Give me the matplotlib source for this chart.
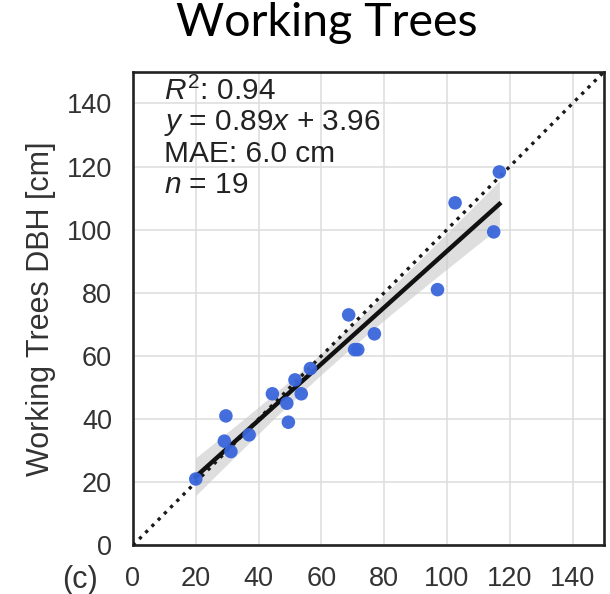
import numpy as np
import matplotlib
matplotlib.use("Agg")
import matplotlib.pyplot as plt

# field-measured DBH vs. Working Trees estimate (cm)
field_dbh = [20, 29.6, 29.1, 31.2, 37, 44.4, 49, 49.5, 51.6, 53.6, 56.5,
             68.7, 70.6, 71.6, 76.9, 97, 102.6, 114.9, 116.7]
wt_dbh = [21, 41, 33, 29.7, 35, 48, 45, 39, 52.4, 48, 56,
          73, 62, 62, 67, 81, 108.5, 99.3, 118.3]
ticks = [0, 20, 40, 60, 80, 100, 120, 140]
stats_lines = [r"$R^{2}$: 0.94", r"$y$ = 0.89$x$ + 3.96", "MAE: 6.0 cm", r"$n$ = 19"]

plt.rcParams['font.family'] = ['Liberation Sans', 'DejaVu Sans']
plt.rcParams['mathtext.fontset'] = 'custom'
plt.rcParams['mathtext.rm'] = 'Liberation Sans'
plt.rcParams['mathtext.it'] = 'Liberation Sans:italic'

x = np.array(field_dbh)
y = np.array(wt_dbh)

# linear fit with 95% confidence band
slope, icpt = np.polyfit(x, y, 1)
xs = np.linspace(x.min(), x.max(), 100)
ys = slope * xs + icpt
n = len(x)
resid = y - (slope * x + icpt)
s = np.sqrt(np.sum(resid ** 2) / (n - 2))
se = s * np.sqrt(1 / n + (xs - x.mean()) ** 2 / np.sum((x - x.mean()) ** 2))
t_crit = 2.11  # df = 17
lo = ys - t_crit * se
hi = ys + t_crit * se

fig = plt.figure(figsize=(6.1, 5.94), dpi=100)
ax = fig.add_axes([0.218, 0.082, 0.772, 0.797])

ax.plot([0, 150], [0, 150], color='#1a1a1a', linestyle=':', lw=2.4, zorder=3)
ax.fill_between(xs, lo, hi, color='#c8c8c8', alpha=0.6, lw=0, zorder=2)
ax.plot(xs, ys, color='#111111', lw=3.2, zorder=4)
ax.scatter(x, y, s=95, color='#3a66db', alpha=0.95, edgecolor='none', zorder=5)

ax.set_xlim(0, 150)
ax.set_ylim(0, 150)
ax.set_xticks(ticks)
ax.set_yticks(ticks)
ax.grid(True, color='#dddddd', lw=1.1, zorder=0)
ax.set_axisbelow(True)
ax.tick_params(length=0, labelsize=19.5, labelcolor='#333333')
ax.tick_params(axis='x', pad=15)
ax.tick_params(axis='y', pad=15)
for sp in ax.spines.values():
    sp.set_color('#222222')
    sp.set_linewidth(1.9)

ax.set_ylabel('Working Trees DBH [cm]', fontsize=22, color='#333333', labelpad=8)

for i, line in enumerate(stats_lines):
    ax.text(0.065, 0.99 - i * 0.0665, line, transform=ax.transAxes,
            fontsize=21.5, color='#222222', va='top', ha='left')

fig.text(0.535, 0.997, 'Working Trees', fontsize=33.5, family=['Lato', 'DejaVu Sans'],
         ha='center', va='top', color='black')
fig.text(0.102, 0.048, '(c)', fontsize=22, color='#333333', ha='left', va='top')

fig.savefig('out.png', dpi=100)
